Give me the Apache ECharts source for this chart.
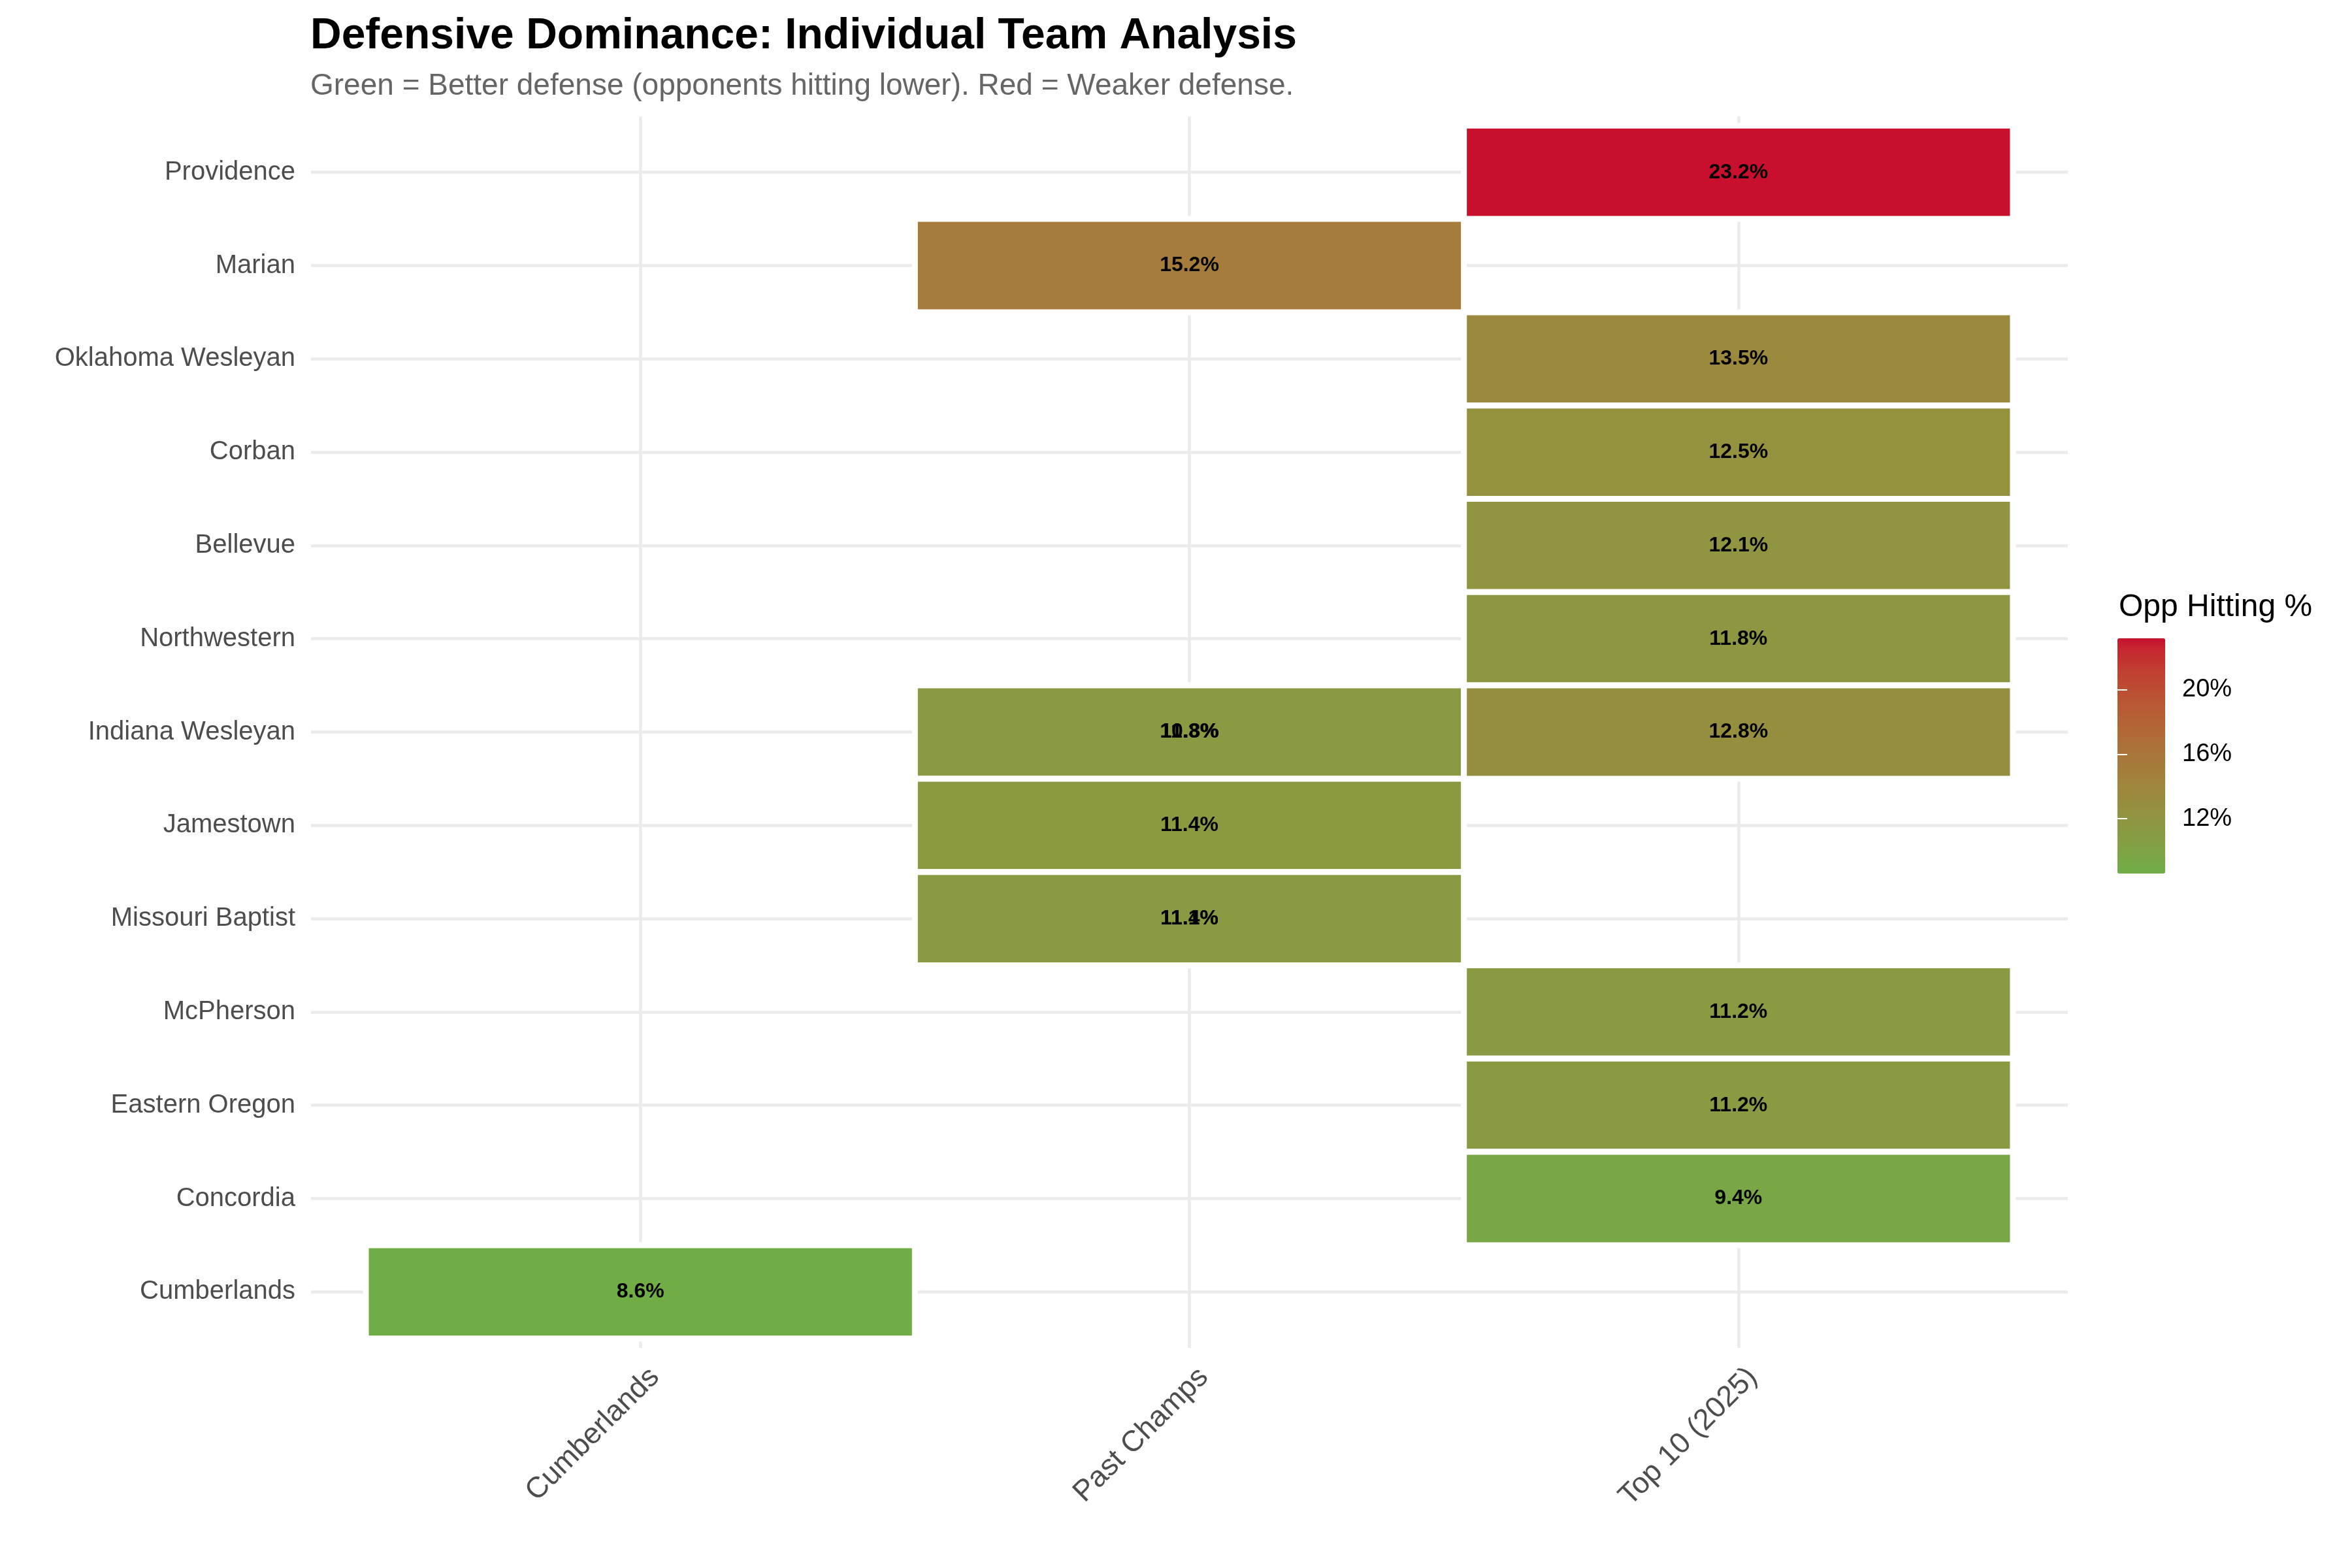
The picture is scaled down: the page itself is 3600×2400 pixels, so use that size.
<!DOCTYPE html>
<html><head><meta charset="utf-8">
<script src="https://cdn.jsdelivr.net/npm/echarts@6/dist/echarts.min.js"></script>
<style>html,body{margin:0;padding:0;background:#fff}#c{width:3600px;height:2400px}</style>
</head><body><div id="c"></div>
<script>
// ---- data ----
const teams = ['Cumberlands','Concordia','Eastern Oregon','McPherson','Missouri Baptist','Jamestown','Indiana Wesleyan','Northwestern','Bellevue','Corban','Oklahoma Wesleyan','Marian','Providence'];
const groups = ['Cumberlands','Past Champs','Top 10 (2025)'];
const tileTeam = ['Providence','Marian','Oklahoma Wesleyan','Corban','Bellevue','Northwestern','Indiana Wesleyan','Indiana Wesleyan','Indiana Wesleyan','Jamestown','Missouri Baptist','Missouri Baptist','McPherson','Eastern Oregon','Concordia','Cumberlands'];
const tileGroup = ['Top 10 (2025)','Past Champs','Top 10 (2025)','Top 10 (2025)','Top 10 (2025)','Top 10 (2025)','Past Champs','Past Champs','Top 10 (2025)','Past Champs','Past Champs','Past Champs','Top 10 (2025)','Top 10 (2025)','Top 10 (2025)','Cumberlands'];
const tileValue = [23.2,15.2,13.5,12.5,12.1,11.8,10.8,11.3,12.8,11.4,11.4,11.1,11.2,11.2,9.4,8.6];
const legendTicks = [12,16,20];
const lowColor = '#70AD47', highColor = '#C8102E';

// ---- Lab colour interpolation (like ggplot's scale_fill_gradient) ----
function hexToRgb(h){h=h.replace('#','');return [0,2,4].map(i=>parseInt(h.substr(i,2),16)/255);}
function lin(c){return c<=0.04045?c/12.92:Math.pow((c+0.055)/1.055,2.4);}
function delin(c){return c<=0.0031308?12.92*c:1.055*Math.pow(c,1/2.4)-0.055;}
function rgbToLab(rgb){
  const [r,g,b]=rgb.map(lin);
  let X=(0.4124*r+0.3576*g+0.1805*b)/0.95047, Y=(0.2126*r+0.7152*g+0.0722*b), Z=(0.0193*r+0.1192*g+0.9505*b)/1.08883;
  const f=t=>t>0.008856?Math.cbrt(t):7.787*t+16/116;
  const fx=f(X),fy=f(Y),fz=f(Z);
  return [116*fy-16,500*(fx-fy),200*(fy-fz)];
}
function labToHex(lab){
  const fy=(lab[0]+16)/116, fx=fy+lab[1]/500, fz=fy-lab[2]/200;
  const fi=t=>t*t*t>0.008856?t*t*t:(t-16/116)/7.787;
  const X=fi(fx)*0.95047,Y=fi(fy),Z=fi(fz)*1.08883;
  let r=3.2406*X-1.5372*Y-0.4986*Z, g=-0.9689*X+1.8758*Y+0.0415*Z, b=0.0557*X-0.2040*Y+1.0570*Z;
  return '#'+[r,g,b].map(c=>{let v=Math.round(Math.min(1,Math.max(0,delin(c)))*255);return v.toString(16).padStart(2,'0');}).join('');
}
const labLo=rgbToLab(hexToRgb(lowColor)), labHi=rgbToLab(hexToRgb(highColor));
const stops=[];
for(let i=0;i<=40;i++){const t=i/40;stops.push(labToHex([0,1,2].map(k=>labLo[k]+(labHi[k]-labLo[k])*t)));}

const vMin=Math.min(...tileValue), vMax=Math.max(...tileValue);
const tileData=tileValue.map((v,i)=>[groups.indexOf(tileGroup[i]), teams.indexOf(tileTeam[i]), v]);

const FONT='"Liberation Sans", Arial, Helvetica, sans-serif';
const LABEL_SHIFT=0.026; // rotated label anchor nudge (ggplot hjust/vjust=1 look)
const chart=echarts.init(document.getElementById('c'),null,{renderer:'canvas'});
const option={
  backgroundColor:'#fff',
  animation:false,
  title:[
    {text:'Defensive Dominance: Individual Team Analysis',left:475,top:23,padding:0,
     textStyle:{fontSize:66,fontWeight:'bold',color:'#000',fontFamily:FONT}},
    {text:'Green = Better defense (opponents hitting lower). Red = Weaker defense.',left:475,top:109,padding:0,
     textStyle:{fontSize:46,fontWeight:'normal',color:'#666666',fontFamily:FONT}},
    {text:'Opp Hitting %',left:3243,top:906,padding:0,
     textStyle:{fontSize:48,fontWeight:'normal',color:'#000',fontFamily:FONT}}
  ],
  grid:[
    {left:476,top:178,width:2689,height:1885,containLabel:false},
    {left:3241,top:977,width:73,height:360,containLabel:false}
  ],
  xAxis:[
    {gridIndex:0,type:'value',min:-0.6,max:2.6,
     axisLine:{show:false},
     axisTick:{show:false,customValues:[0,1,2]},
     axisLabel:{customValues:groups.map((g,i)=>i+LABEL_SHIFT),formatter:v=>groups[Math.round(v)],rotate:45,margin:38,
       fontSize:45,color:'#4D4D4D',fontFamily:FONT},
     splitLine:{show:true,lineStyle:{color:'#EBEBEB',width:4.5}}},
    {gridIndex:1,type:'value',show:false,min:0,max:1}
  ],
  yAxis:[
    {gridIndex:0,type:'value',min:-0.6,max:12.6,
     axisLine:{show:false},
     axisTick:{show:false,customValues:teams.map((t,i)=>i)},
     axisLabel:{customValues:teams.map((t,i)=>i),formatter:v=>teams[Math.round(v)],margin:24,
       fontSize:40,color:'#4D4D4D',fontFamily:FONT},
     splitLine:{show:true,lineStyle:{color:'#EBEBEB',width:4.5}}},
    {gridIndex:1,type:'value',position:'right',min:vMin,max:vMax,z:10,
     axisLine:{show:false},
     axisTick:{show:true,inside:true,length:15,customValues:legendTicks,lineStyle:{color:'#fff',width:2}},
     axisLabel:{customValues:legendTicks,formatter:v=>v+'%',margin:26,fontSize:38,color:'#000',fontFamily:FONT},
     splitLine:{show:false}},
    {gridIndex:1,type:'value',position:'left',min:vMin,max:vMax,z:10,
     axisLine:{show:false},
     axisTick:{show:true,inside:true,length:15,customValues:legendTicks,lineStyle:{color:'#fff',width:2}},
     axisLabel:{show:false},
     splitLine:{show:false}}
  ],
  visualMap:{
    type:'continuous',min:vMin,max:vMax,dimension:2,seriesIndex:0,
    left:3241,top:977,itemWidth:73,itemHeight:360,padding:0,
    calculable:false,realtime:false,hoverLink:false,
    inRange:{color:stops},
    textStyle:{fontSize:0}
  },
  series:[
    {type:'custom',xAxisIndex:0,yAxisIndex:0,data:tileData,
     renderItem:function(params,api){
       const x=api.value(0),y=api.value(1);
       const p0=api.coord([x-0.5,y+0.5]), p1=api.coord([x+0.5,y-0.5]);
       return {type:'rect',shape:{x:p0[0],y:p0[1],width:p1[0]-p0[0],height:p1[1]-p0[1]},
         style:{fill:api.visual('color'),stroke:'#fff',lineWidth:9}};
     }},
    {type:'custom',xAxisIndex:0,yAxisIndex:0,data:tileData,z:5,
     renderItem:function(params,api){
       const x=api.value(0),y=api.value(1);
       const p=api.coord([x,y]);
       return {type:'text',style:{text:api.value(2).toFixed(1)+'%',x:p[0],y:p[1],align:'center',verticalAlign:'middle',
         fontSize:32,fontWeight:'bold',fontFamily:FONT,fill:'#000'}};
     }}
  ]
};
chart.setOption(option);
</script>
</body></html>
